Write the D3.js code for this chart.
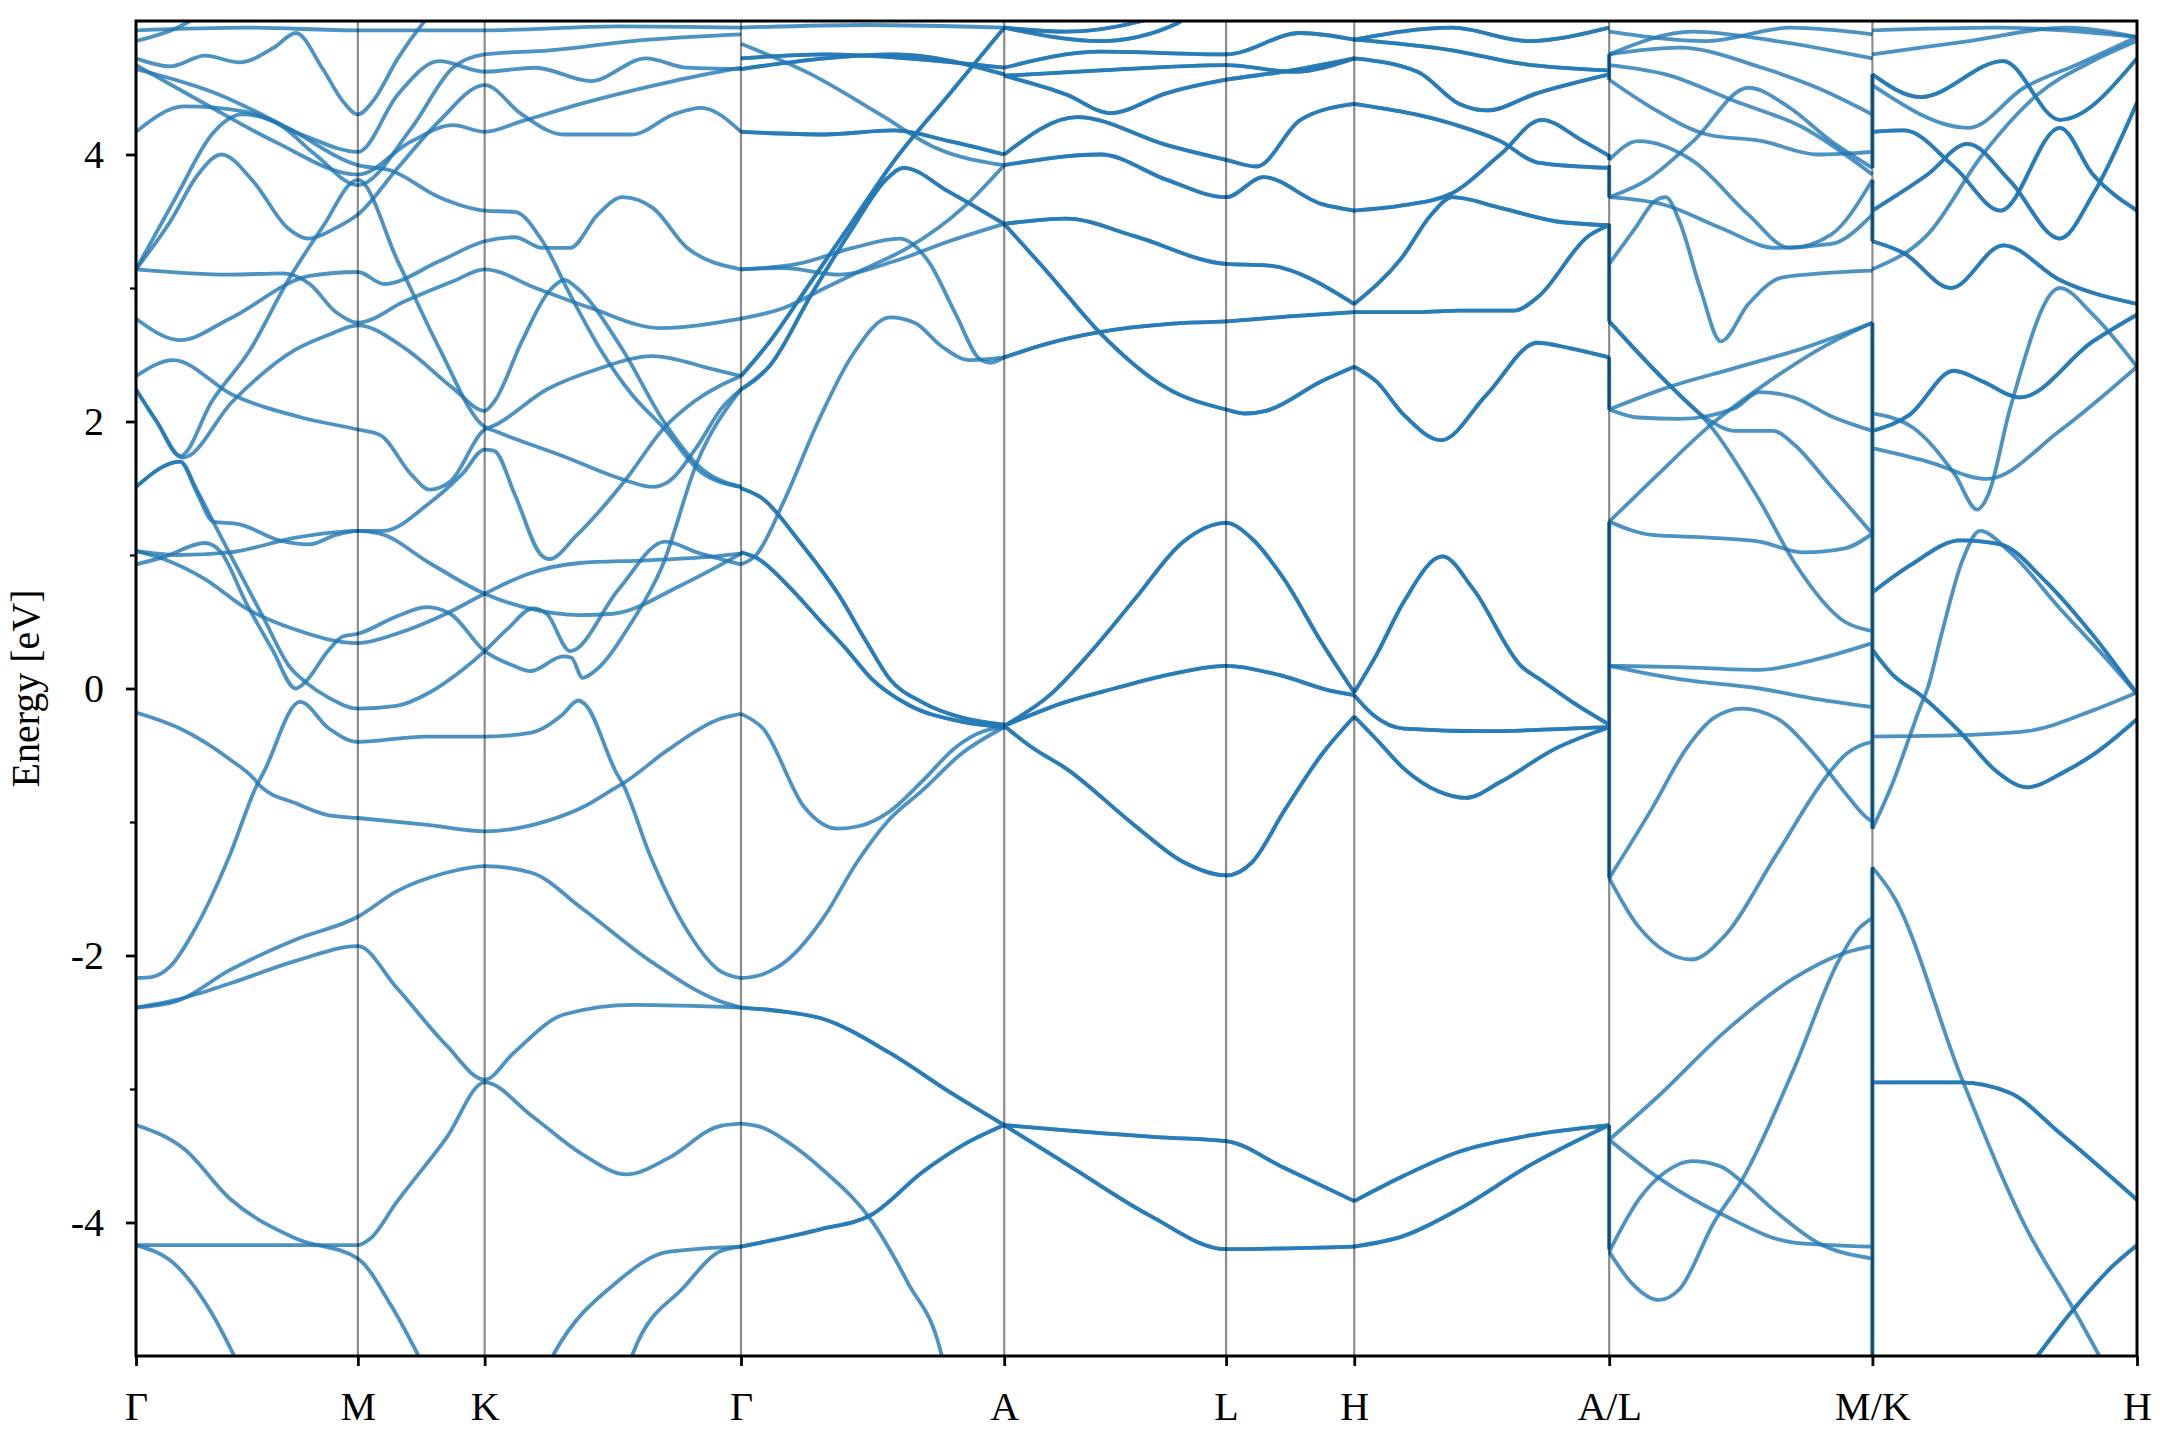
<!DOCTYPE html>
<html><head><meta charset="utf-8">
<script src="https://cdn.jsdelivr.net/npm/d3@7"></script>
<style>html,body{margin:0;padding:0;background:#fff;}</style>
</head><body>
<svg id="chart" width="2160" height="1440"></svg>
<script>
// ---------- data ----------
const tickPos = [0, 1.61, 2.53, 4.39, 6.30, 7.91, 8.84, 10.69, 12.60, 14.52];
const tickLabels = ["Γ","M","K","Γ","A","L","H","A/L","M/K","H"];
const yMajor = [-4, -2, 0, 2, 4];
const yMinor = [-3, -1, 1, 3];

// Γ – M – K – Γ  (each curve: [k, E])
const bandsGMKG = [
 [[0,4.93],[0.8,4.95],[1.61,4.93],[2.53,4.93],[3.5,4.96],[4.39,4.95]],
 [[0,4.85],[0.3,4.95],[0.55,5.1]],
 [[0,4.72],[0.25,4.66],[0.5,4.74],[0.75,4.69],[1.0,4.8],[1.16,4.91],[1.35,4.65],[1.5,4.4],[1.61,4.3],[1.72,4.4],[1.9,4.72],[2.08,4.98],[2.18,5.1]],
 [[0,4.67],[0.5,4.38],[1.0,4.1],[1.61,3.85],[2.0,4.1],[2.3,4.22],[2.53,4.17],[2.8,4.25],[3.3,4.4],[3.9,4.55],[4.39,4.65]],
 [[0,4.64],[0.6,4.45],[1.1,4.2],[1.61,3.92],[1.85,3.88],[2.2,3.68],[2.53,3.58],[2.75,3.57],[2.95,3.35],[3.15,2.95],[3.37,2.54],[3.6,2.2],[3.83,1.95],[4.1,1.62],[4.39,1.51]],
 [[0,4.17],[0.35,4.36],[0.8,4.32],[1.2,4.15],[1.61,4.02],[1.9,4.45],[2.2,4.7],[2.53,4.62],[2.9,4.65],[3.3,4.55],[3.7,4.72],[4.0,4.65],[4.39,4.64]],
 [[0,3.14],[0.3,3.7],[0.55,4.15],[0.77,4.3],[1.0,4.25],[1.3,4.0],[1.61,3.77],[2.0,4.2],[2.3,4.65],[2.53,4.75],[3.0,4.78],[3.6,4.85],[4.39,4.9]],
 [[0,3.14],[0.25,3.5],[0.45,3.85],[0.62,4.0],[0.85,3.8],[1.1,3.45],[1.25,3.37],[1.45,3.45],[1.61,3.55],[1.9,3.9],[2.2,4.25],[2.53,4.52],[2.8,4.3],[3.1,4.15],[3.6,4.15],[3.9,4.3],[4.1,4.35],[4.39,4.17]],
 [[0,3.14],[0.68,3.1],[1.07,3.11],[1.26,3.03],[1.45,2.82],[1.61,2.74],[1.95,2.9],[2.3,3.05],[2.53,3.14],[2.9,3.0],[3.3,2.85],[3.8,2.7],[4.39,2.77]],
 [[0,2.77],[0.32,2.61],[0.68,2.77],[1.26,3.09],[1.61,3.12],[1.8,3.03],[2.2,3.2],[2.53,3.35],[2.75,3.38],[2.95,3.3],[3.15,3.3],[3.35,3.55],[3.53,3.68],[3.75,3.6],[4.0,3.3],[4.39,3.14]],
 [[0,2.34],[0.27,2.46],[0.7,2.2],[1.2,2.03],[1.61,1.94],[1.77,1.9],[2.0,1.6],[2.13,1.49],[2.28,1.55],[2.53,1.94],[2.6,1.97],[2.98,2.24],[3.34,2.39],[3.75,2.49],[4.19,2.39],[4.39,2.34]],
 [[0,2.24],[0.15,2.0],[0.32,1.74],[0.55,2.15],[0.83,2.54],[1.1,3.05],[1.35,3.45],[1.61,3.81],[1.9,3.2],[2.2,2.55],[2.53,1.96],[2.6,1.93],[3.1,1.74],[3.55,1.56],[3.75,1.51],[3.85,1.54],[4.07,1.81],[4.25,2.1],[4.39,2.24]],
 [[0,2.24],[0.15,2.0],[0.34,1.73],[0.7,2.15],[1.16,2.54],[1.4,2.65],[1.61,2.72],[1.95,2.55],[2.3,2.25],[2.53,2.08],[2.6,2.15],[2.8,2.6],[3.0,2.98],[3.11,3.06],[3.2,3.0],[3.53,2.54],[3.83,2.0],[4.1,1.65],[4.39,1.51]],
 [[0,1.03],[0.2,0.97],[0.5,0.82],[0.8,0.6],[1.16,0.44],[1.61,0.34],[1.89,0.41],[2.25,0.56],[2.53,0.71],[2.85,0.86],[3.22,0.94],[3.7,0.96],[4.2,0.99],[4.39,1.01]],
 [[0,0.93],[0.19,0.98],[0.5,1.09],[0.61,1.03],[0.8,0.64],[0.99,0.29],[1.16,0.0],[1.22,0.04],[1.4,0.29],[1.5,0.39],[1.61,0.41],[1.89,0.54],[2.11,0.61],[2.28,0.56],[2.53,0.28],[2.74,0.17],[2.86,0.13],[3.1,0.24],[3.16,0.23],[3.24,0.08],[3.34,0.14],[3.58,0.47],[3.82,0.92],[4.07,1.69],[4.39,2.24]],
 [[0,1.51],[0.32,1.70],[0.44,1.49],[0.56,1.25],[0.68,1.01],[0.92,0.54],[1.11,0.17],[1.24,0.04],[1.4,-0.07],[1.61,-0.15],[1.89,-0.13],[2.13,-0.03],[2.37,0.14],[2.53,0.28],[2.7,0.45],[2.88,0.6],[2.98,0.56],[3.15,0.28],[3.5,0.74],[3.84,1.1],[4.07,1.02],[4.39,0.93]],
 [[0,1.51],[0.32,1.70],[0.44,1.47],[0.56,1.25],[0.75,1.23],[1.04,1.11],[1.26,1.08],[1.45,1.15],[1.61,1.18],[1.77,1.16],[2.13,0.94],[2.53,0.71],[2.85,0.6],[3.22,0.55],[3.46,0.56],[3.95,0.77],[4.39,1.01]],
 [[0,1.03],[0.3,1.0],[0.68,1.02],[1.16,1.13],[1.61,1.18],[1.79,1.18],[2.13,1.39],[2.37,1.61],[2.53,1.79],[2.6,1.78],[2.75,1.45],[2.94,1.0],[3.0,0.97],[3.2,1.15],[3.55,1.56],[3.83,1.95],[4.05,2.15],[4.39,2.34]],
 [[0,-0.18],[0.32,-0.30],[0.68,-0.53],[0.86,-0.68],[0.9,-0.73],[1.16,-0.86],[1.4,-0.95],[1.61,-0.97],[2.1,-1.02],[2.53,-1.07],[2.99,-0.99],[3.24,-0.89],[3.485,-0.74],[3.535,-0.71],[3.86,-0.46],[4.23,-0.23],[4.39,-0.19]],
 [[0,-2.17],[0.12,-2.16],[0.25,-2.08],[0.44,-1.78],[0.68,-1.25],[0.87,-0.74],[0.93,-0.62],[1.19,-0.1],[1.4,-0.3],[1.61,-0.4],[2.1,-0.36],[2.53,-0.36],[2.87,-0.33],[3.09,-0.2],[3.21,-0.09],[3.26,-0.12],[3.485,-0.63],[3.535,-0.72],[3.73,-1.25],[3.98,-1.78],[4.23,-2.11],[4.39,-2.17]],
 [[0,-2.39],[0.3,-2.34],[0.68,-2.11],[1.16,-1.88],[1.61,-1.71],[1.89,-1.52],[2.25,-1.38],[2.53,-1.33],[2.87,-1.38],[3.24,-1.65],[3.73,-2.04],[4.23,-2.34],[4.39,-2.39]],
 [[0,-2.39],[0.3,-2.33],[0.68,-2.21],[1.16,-2.04],[1.61,-1.93],[1.89,-2.24],[2.25,-2.67],[2.53,-2.93],[2.74,-2.73],[3.11,-2.44],[3.61,-2.37],[4.39,-2.39]],
 [[0,-4.17],[0.8,-4.17],[1.61,-4.17],[1.7,-4.12],[1.89,-3.85],[2.25,-3.37],[2.53,-2.95],[2.87,-3.2],[3.24,-3.49],[3.56,-3.64],[3.86,-3.52],[4.23,-3.28],[4.39,-3.26]],
 [[0,-3.27],[0.35,-3.45],[0.68,-3.82],[1.16,-4.12],[1.61,-4.27],[1.85,-4.62],[2.1,-5.1]],
 [[0,-4.17],[0.3,-4.33],[0.55,-4.68],[0.76,-5.1]],
 [[2.95,-5.15],[3.04,-4.97],[3.485,-4.45],[3.86,-4.22],[4.39,-4.18]],
 [[3.55,-5.15],[3.61,-4.97],[3.98,-4.48],[4.23,-4.22],[4.39,-4.18]]
];

// Γ – A, non-degenerate
const bandsGA1 = [
 [[4.39,2.77],[4.7,2.85],[5.0,3.0],[5.3,3.15],[5.6,3.3],[6.0,3.6],[6.3,3.92]],
 [[4.39,3.14],[4.7,3.15],[5.1,3.1],[5.5,3.2],[5.9,3.35],[6.3,3.48]],
 [[4.39,3.14],[4.8,3.18],[5.2,3.3],[5.54,3.37],[5.75,3.2],[5.95,2.8],[6.12,2.47],[6.2,2.44],[6.3,2.48]],
 [[4.39,0.93],[4.5,1.0],[4.7,1.4],[4.95,2.0],[5.2,2.5],[5.47,2.78],[5.65,2.74],[5.85,2.56],[6.05,2.46],[6.3,2.48]],
 [[4.39,4.83],[4.9,4.6],[5.4,4.3],[5.8,4.05],[6.3,3.92]],
 [[4.39,4.95],[5.3,4.97],[6.3,4.95]],
 [[4.39,-0.19],[4.55,-0.3],[4.85,-0.89],[5.09,-1.05],[5.25,-1.03],[5.47,-0.92],[5.7,-0.7],[5.96,-0.43],[6.15,-0.32],[6.3,-0.29]],
 [[4.39,-2.17],[4.55,-2.14],[4.72,-2.04],[5.0,-1.7],[5.22,-1.32],[5.45,-1.0],[5.71,-0.76],[6.0,-0.48],[6.3,-0.29]],
 [[4.39,-3.26],[4.55,-3.29],[4.72,-3.39],[5.0,-3.62],[5.34,-3.99],[5.6,-4.45],[5.84,-4.97],[5.87,-5.1]]
];
// Γ – A, doubly degenerate
const bandsGA2 = [
 [[4.39,2.34],[4.6,2.6],[4.9,3.05],[5.2,3.5],[5.5,3.95],[5.9,4.45],[6.3,4.95]],
 [[4.39,2.24],[4.6,2.42],[4.9,2.95],[5.2,3.45],[5.45,3.82],[5.57,3.9],[5.9,3.72],[6.3,3.48]],
 [[4.39,4.17],[5.0,4.15],[5.5,4.18],[5.9,4.1],[6.3,4.0]],
 [[4.39,4.64],[5.0,4.72],[5.5,4.75],[6.3,4.6]],
 [[4.39,4.72],[5.0,4.75],[5.6,4.72],[6.3,4.65]],
 [[4.39,1.50],[4.55,1.42],[4.8,1.12],[5.1,0.7],[5.3,0.35],[5.47,0.07],[5.7,-0.1],[6.0,-0.22],[6.3,-0.27]],
 [[4.39,1.02],[4.5,0.98],[4.75,0.75],[4.97,0.5],[5.15,0.3],[5.34,0.07],[5.6,-0.12],[6.0,-0.25],[6.3,-0.29]],
 [[4.39,-2.39],[4.7,-2.42],[4.97,-2.47],[5.47,-2.73],[5.9,-3.02],[6.3,-3.27]],
 [[4.39,-4.18],[4.97,-4.05],[5.34,-3.94],[5.71,-3.62],[6.0,-3.42],[6.3,-3.27]]
];

// A – L – H (doubly degenerate)
const bandsALH = [
 [[6.3,-0.28],[6.63,-0.05],[6.95,0.3],[7.24,0.66],[7.6,1.1],[7.91,1.24],[8.1,1.12],[8.33,0.82],[8.6,0.35],[8.84,-0.03]],
 [[6.3,-0.28],[6.75,-0.1],[7.1,0.0],[7.48,0.1],[7.91,0.17],[8.3,0.1],[8.68,-0.02],[8.84,-0.05]],
 [[6.3,-0.28],[6.5,-0.44],[6.75,-0.6],[7.24,-1.02],[7.6,-1.3],[7.91,-1.4],[8.1,-1.3],[8.33,-0.92],[8.6,-0.5],[8.84,-0.21]],
 [[6.3,-3.27],[6.75,-3.31],[7.4,-3.36],[7.91,-3.39],[8.33,-3.59],[8.84,-3.84]],
 [[6.3,-3.27],[6.5,-3.4],[6.75,-3.56],[7.36,-3.95],[7.91,-4.2],[8.84,-4.18]],
 [[6.3,2.48],[6.6,2.58],[6.99,2.67],[7.48,2.73],[7.91,2.75],[8.4,2.79],[8.84,2.82]],
 [[6.3,3.48],[6.63,3.1],[6.99,2.67],[7.48,2.25],[7.91,2.09],[8.05,2.06],[8.2,2.08],[8.6,2.3],[8.84,2.41]],
 [[6.3,3.48],[6.75,3.52],[7.24,3.39],[7.91,3.18],[8.2,3.17],[8.84,2.88]],
 [[6.3,3.92],[7.0,4.0],[7.48,3.81],[7.91,3.68],[8.18,3.83],[8.6,3.63],[8.84,3.58]],
 [[6.3,4.0],[6.83,4.28],[7.48,4.07],[7.91,3.96],[8.13,3.91],[8.45,4.26],[8.84,4.38]],
 [[6.3,4.59],[6.75,4.45],[7.07,4.31],[7.48,4.46],[7.91,4.56],[8.33,4.62],[8.84,4.72]],
 [[6.3,4.65],[7.0,4.77],[7.91,4.75],[8.45,4.91],[8.84,4.86]],
 [[6.3,4.59],[7.0,4.63],[7.91,4.67],[8.4,4.62],[8.84,4.72]],
 [[6.3,4.95],[7.0,4.85],[7.55,4.98],[7.7,5.1]],
 [[6.3,4.95],[6.75,4.92],[7.3,5.0],[7.6,5.1]]
];
// H – A (doubly degenerate)
const bandsHA = [
 [[8.84,-0.03],[9.0,0.25],[9.2,0.65],[9.48,0.99],[9.7,0.75],[10.05,0.17],[10.2,0.06],[10.42,-0.1],[10.69,-0.27]],
 [[8.84,-0.05],[8.98,-0.2],[9.2,-0.3],[9.8,-0.32],[10.4,-0.3],[10.69,-0.29]],
 [[8.84,-0.21],[9.0,-0.38],[9.2,-0.6],[9.45,-0.77],[9.65,-0.82],[9.9,-0.7],[10.3,-0.45],[10.69,-0.29]],
 [[8.84,-3.84],[9.2,-3.65],[9.6,-3.47],[10.1,-3.35],[10.69,-3.27]],
 [[8.84,-4.18],[9.2,-4.1],[9.6,-3.9],[10.1,-3.58],[10.69,-3.27]],
 [[8.84,2.41],[9.0,2.3],[9.2,2.05],[9.47,1.86],[9.8,2.2],[10.17,2.59],[10.4,2.55],[10.69,2.48]],
 [[8.84,2.82],[9.3,2.82],[9.6,2.83],[10.0,2.83],[10.17,2.93],[10.54,3.39],[10.69,3.47]],
 [[8.84,2.88],[9.18,3.22],[9.4,3.55],[9.55,3.68],[9.9,3.6],[10.3,3.5],[10.69,3.47]],
 [[8.84,3.58],[9.2,3.62],[9.55,3.71],[9.9,4.0],[10.2,4.26],[10.5,4.1],[10.69,3.99]],
 [[8.84,4.38],[9.55,4.23],[9.9,4.1],[10.17,3.94],[10.69,3.9]],
 [[8.84,4.72],[9.3,4.62],[9.6,4.38],[9.8,4.33],[10.17,4.46],[10.69,4.6]],
 [[8.84,4.86],[9.55,4.78],[10.05,4.68],[10.69,4.63]],
 [[8.84,4.86],[9.55,4.95],[10.1,4.85],[10.69,4.95]]
];

// L – M
const bandsLM = [
 [[10.69,-1.42],[10.9,-1.78],[11.29,-2.03],[11.53,-1.85],[11.9,-1.25],[12.28,-0.64],[12.4,-0.5],[12.53,-0.42],[12.6,-0.4]],
 [[10.69,-1.42],[11.0,-0.9],[11.25,-0.45],[11.45,-0.22],[11.65,-0.15],[11.9,-0.22],[12.2,-0.52],[12.4,-0.78],[12.55,-0.96],[12.6,-1.0]],
 [[10.69,-3.38],[11.04,-3.06],[11.53,-2.57],[12.03,-2.17],[12.4,-1.98],[12.6,-1.93]],
 [[10.69,-3.38],[11.04,-3.66],[11.53,-3.95],[12.03,-4.15],[12.6,-4.18]],
 [[10.69,-4.22],[10.85,-4.45],[11.05,-4.58],[11.2,-4.5],[11.45,-4.0],[11.66,-3.67],[12.03,-2.85],[12.35,-2.05],[12.5,-1.8],[12.6,-1.72]],
 [[10.69,-4.22],[10.91,-3.82],[11.1,-3.62],[11.29,-3.54],[11.5,-3.58],[11.66,-3.7],[11.9,-3.92],[12.2,-4.15],[12.6,-4.27]],
 [[10.69,1.25],[11.04,1.6],[11.41,1.96],[11.78,2.25],[12.28,2.58],[12.6,2.74]],
 [[10.69,1.25],[11.0,1.15],[11.41,1.13],[11.78,1.1],[12.1,1.02],[12.4,1.05],[12.6,1.16]],
 [[10.69,0.17],[11.2,0.16],[11.78,0.14],[12.2,0.22],[12.6,0.34]],
 [[10.69,0.17],[11.2,0.07],[11.78,0.0],[12.2,-0.08],[12.6,-0.14]],
 [[10.69,2.09],[11.1,2.25],[11.6,2.4],[12.1,2.55],[12.6,2.74]],
 [[10.69,2.09],[10.9,2.03],[11.2,2.02],[11.6,2.1],[11.78,2.22],[12.03,2.18],[12.3,2.04],[12.6,1.93]],
 [[10.69,2.75],[11.1,2.3],[11.43,1.96],[11.78,1.41],[12.03,0.95],[12.4,0.5],[12.6,0.43]],
 [[10.69,2.75],[11.1,2.3],[11.4,2.02],[11.6,1.93],[11.88,1.93],[12.03,1.83],[12.28,1.54],[12.6,1.16]],
 [[10.69,3.18],[10.88,3.45],[11.02,3.65],[11.1,3.68],[11.2,3.5],[11.35,3.0],[11.5,2.6],[11.7,2.88],[11.95,3.08],[12.6,3.13]],
 [[10.69,3.68],[11.1,3.62],[11.5,3.45],[11.9,3.3],[12.3,3.33],[12.6,3.55]],
 [[10.69,3.96],[10.9,4.1],[11.3,3.95],[11.7,3.55],[12.0,3.3],[12.3,3.4],[12.6,3.81]],
 [[10.69,3.68],[10.95,3.8],[11.3,4.1],[11.7,4.5],[12.0,4.35],[12.3,4.1],[12.6,3.9]],
 [[10.69,4.56],[11.0,4.35],[11.4,4.15],[11.8,4.1],[12.2,4.0],[12.6,4.02]],
 [[10.69,4.67],[11.1,4.6],[11.6,4.4],[12.1,4.2],[12.6,3.85]],
 [[10.69,4.75],[11.2,4.8],[11.8,4.65],[12.2,4.5],[12.6,4.3]],
 [[10.69,4.75],[11.3,4.92],[11.9,4.85],[12.6,4.72]],
 [[10.69,4.92],[11.4,4.85],[12.0,4.95],[12.6,4.9]]
];

// K – H, non-degenerate
const bandsKH1 = [
 [[12.6,-1.05],[12.75,-0.7],[12.87,-0.36],[12.95,-0.13],[13.0,0.0],[13.1,0.4],[13.25,0.95],[13.38,1.18],[13.6,1.02],[13.96,0.6],[14.3,0.22],[14.52,-0.04]],
 [[12.6,-0.36],[13.24,-0.35],[13.72,-0.32],[14.21,-0.16],[14.52,-0.03]],
 [[12.6,-1.34],[12.75,-1.55],[13.24,-2.9],[13.72,-4.05],[14.06,-4.65],[14.3,-5.1]],
 [[12.6,2.06],[12.9,1.95],[13.2,1.6],[13.36,1.34],[13.44,1.45],[13.6,2.1],[13.96,3.0],[14.2,2.8],[14.52,2.41]],
 [[12.6,1.8],[13.0,1.7],[13.43,1.57],[13.96,1.93],[14.52,2.41]],
 [[12.6,4.52],[13.3,4.2],[13.7,4.5],[14.1,4.68],[14.52,4.88]],
 [[12.6,3.14],[13.0,3.4],[13.4,4.0],[13.8,4.45],[14.2,4.7],[14.52,4.85]],
 [[12.6,4.93],[13.5,4.95],[14.52,4.88]],
 [[12.6,4.75],[13.3,4.85],[14.0,4.95],[14.52,4.88]]
];
// K – H, doubly degenerate
const bandsKH2 = [
 [[12.6,0.72],[12.87,0.92],[13.24,1.11],[13.53,1.08],[13.84,0.82],[14.2,0.4],[14.52,-0.04]],
 [[12.6,0.29],[12.75,0.1],[12.95,-0.05],[13.24,-0.33],[13.5,-0.62],[13.72,-0.74],[14.0,-0.62],[14.21,-0.49],[14.52,-0.23]],
 [[12.6,-2.95],[13.24,-2.95],[13.6,-3.03],[13.96,-3.33],[14.52,-3.83]],
 [[13.68,-5.15],[13.72,-5.1],[14.06,-4.65],[14.35,-4.32],[14.52,-4.17]],
 [[12.6,1.93],[12.87,2.05],[13.19,2.38],[13.4,2.3],[13.67,2.18],[14.2,2.6],[14.52,2.8]],
 [[12.6,3.35],[12.83,3.26],[13.17,3.0],[13.55,3.32],[13.96,3.06],[14.52,2.88]],
 [[12.6,3.58],[13.0,3.85],[13.29,4.08],[13.6,3.8],[13.96,3.37],[14.2,3.7],[14.52,4.39]],
 [[12.6,4.17],[12.83,4.18],[13.2,3.9],[13.53,3.58],[13.96,4.2],[14.2,3.85],[14.52,3.58]],
 [[12.6,4.6],[12.95,4.43],[13.55,4.7],[13.96,4.26],[14.52,4.72]]
];

// vertical jumps at the path discontinuities
const jumpsAL = [[-4.2,-3.27],[-1.42,1.25],[2.09,2.48],[2.75,3.48],[3.68,3.92],[3.96,4.0],[4.56,4.75]];
const jumpsMK = [[-5.1,-1.34],[-1.05,2.74],[3.35,3.81],[3.9,4.6]];

// ---------- drawing ----------
const W = 2160, H = 1440;
const m = {left:136, right:2137, top:21, bottom:1356};
const svg = d3.select("#chart");
svg.append("rect").attr("width",W).attr("height",H).attr("fill","#fff");

const x = d3.scaleLinear().domain([tickPos[0], tickPos[tickPos.length-1]]).range([m.left, m.right]);
const y = d3.scaleLinear().domain([-5, 5]).range([m.bottom, m.top]);

svg.append("defs").append("clipPath").attr("id","clip")
  .append("rect").attr("x",m.left).attr("y",m.top)
  .attr("width",m.right-m.left).attr("height",m.bottom-m.top);

const plot = svg.append("g").attr("clip-path","url(#clip)");
const line = d3.line().x(d=>x(d[0])).y(d=>y(d[1])).curve(d3.curveMonotoneX);
const straight = d3.line().x(d=>x(d[0])).y(d=>y(d[1]));

const bandColor = "#1f77b4", bandAlpha = 0.8, bandWidth = 3.8;
function drawBands(set, times){
  for(let t=0;t<times;t++){
    plot.append("g").selectAll("path").data(set).join("path")
      .attr("d", line).attr("fill","none")
      .attr("stroke", bandColor).attr("stroke-opacity", bandAlpha)
      .attr("stroke-width", bandWidth).attr("stroke-linejoin","round");
  }
}
drawBands(bandsGMKG, 1);
drawBands(bandsGA1, 1);
drawBands(bandsGA2, 2);
drawBands(bandsALH, 2);
drawBands(bandsHA, 2);
drawBands(bandsLM, 1);
drawBands(bandsKH1, 1);
drawBands(bandsKH2, 2);

function drawJumps(kpos, jumps){
  for(let t=0;t<2;t++){
    plot.append("g").selectAll("path").data(jumps).join("path")
      .attr("d", j => straight([[kpos, j[0]],[kpos, j[1]]]))
      .attr("fill","none").attr("stroke", bandColor).attr("stroke-opacity", bandAlpha)
      .attr("stroke-width", bandWidth);
  }
}
drawJumps(tickPos[7], jumpsAL);
drawJumps(tickPos[8], jumpsMK);

// vertical lines at high-symmetry points
svg.append("g").selectAll("line").data(tickPos.slice(1, -1)).join("line")
  .attr("x1", d=>x(d)).attr("x2", d=>x(d)).attr("y1", m.top).attr("y2", m.bottom)
  .attr("stroke","#000").attr("stroke-opacity",0.45).attr("stroke-width",2.2);

// axes
const font = "'Liberation Serif','Times New Roman',Times,serif";
const xAxis = d3.axisBottom(x).tickValues(tickPos).tickFormat((d,i)=>tickLabels[i]).tickSize(10).tickPadding(26);
const gx = svg.append("g").attr("transform",`translate(0,${m.bottom})`).call(xAxis);
gx.select(".domain").remove();
gx.selectAll(".tick line").attr("stroke","#000").attr("stroke-width",2.8);
gx.selectAll(".tick text").attr("font-family",font).attr("font-size",40).attr("fill","#000");

const yAxis = d3.axisLeft(y).tickValues(yMajor).tickFormat(d=>String(d)).tickSize(10).tickPadding(22);
const gy = svg.append("g").attr("transform",`translate(${m.left},0)`).call(yAxis);
gy.select(".domain").remove();
gy.selectAll(".tick line").attr("stroke","#000").attr("stroke-width",2.8);
gy.selectAll(".tick text").attr("font-family",font).attr("font-size",40).attr("fill","#000");

const yAxisMinor = d3.axisLeft(y).tickValues(yMinor).tickFormat("").tickSize(6);
const gym = svg.append("g").attr("transform",`translate(${m.left},0)`).call(yAxisMinor);
gym.select(".domain").remove();
gym.selectAll(".tick line").attr("stroke","#000").attr("stroke-width",2.2);

svg.append("rect").attr("x",m.left).attr("y",m.top)
  .attr("width",m.right-m.left).attr("height",m.bottom-m.top)
  .attr("fill","none").attr("stroke","#000").attr("stroke-width",3);

svg.append("text").attr("transform",`translate(25,${(m.top+m.bottom)/2}) rotate(-90)`)
  .attr("text-anchor","middle").attr("dominant-baseline","central")
  .attr("font-family",font).attr("font-size",40).text("Energy [eV]");
</script>
</body></html>
